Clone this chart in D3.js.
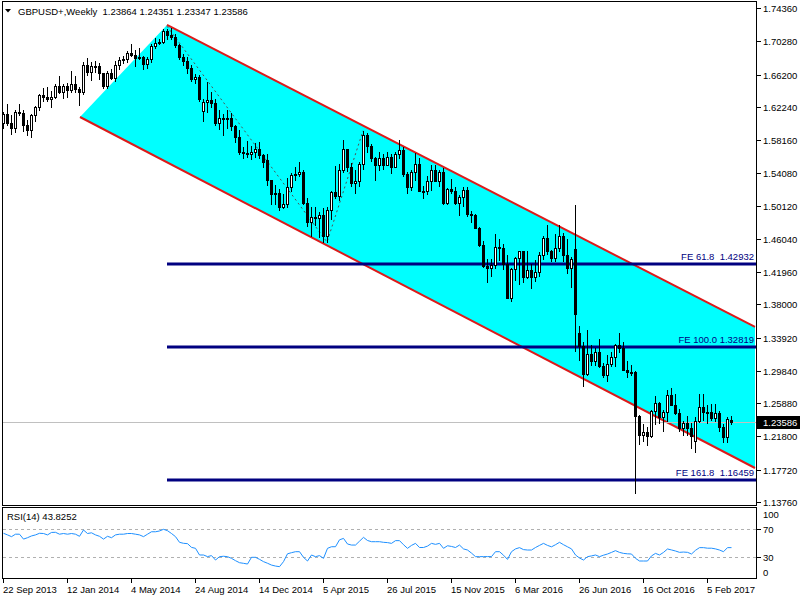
<!DOCTYPE html>
<html><head><meta charset="utf-8">
<script src="https://cdn.jsdelivr.net/npm/d3@7"></script>
<style>
body{margin:0;background:#fff}
svg{display:block}
text{font-family:"Liberation Sans",Arial,sans-serif;font-size:9.5px;white-space:pre}
</style>
</head><body>
<svg id="c" width="800" height="600"></svg>
<script>
const title = "GBPUSD+,Weekly  1.23864 1.24351 1.23347 1.23586";
const opens = [1.6020,1.6130,1.6030,1.5960,1.6165,1.6150,1.6005,1.5945,1.6120,1.6225,1.6370,1.6350,1.6320,1.6350,1.6480,1.6410,1.6475,1.6430,1.6500,1.6440,
1.6410,1.6740,1.6650,1.6720,1.6725,1.6635,1.6485,1.6640,1.6580,1.6740,1.6800,1.6810,1.6890,1.6865,1.6820,1.6830,1.6750,1.6805,1.6975,1.7010,
1.7020,1.7155,1.7110,1.7085,1.6980,1.6830,1.6790,1.6700,1.6560,1.6595,1.6172,1.6283,1.6305,1.6275,1.6030,1.6085,1.6080,1.6090,1.5990,1.5855,
1.5665,1.5655,1.5640,1.5665,1.5710,1.5630,1.5570,1.5325,1.5160,1.5165,1.4995,1.5030,1.5235,1.5390,1.5395,1.5430,1.5045,1.4810,1.4875,1.4860,
1.4900,1.4635,1.4960,1.5175,1.5125,1.5450,1.5705,1.5490,1.5285,1.5315,1.5520,1.5880,1.5740,1.5600,1.5510,1.5600,1.5510,1.5610,1.5490,1.5640,
1.5700,1.5405,1.5240,1.5425,1.5525,1.5195,1.5185,1.5315,1.5450,1.5315,1.5430,1.5045,1.5220,1.5190,1.5040,1.5120,1.5200,1.4910,1.4895,1.4740,
1.4530,1.4265,1.4245,1.4280,1.4500,1.4495,1.4300,1.3880,1.4230,1.4370,1.4460,1.4135,1.4220,1.4135,1.4200,1.4400,1.4620,1.4450,1.4370,1.4495,
1.4640,1.4400,1.4250,1.4480,1.3450,1.3290,1.2950,1.3195,1.3110,1.3220,1.3040,1.2930,1.3075,1.3160,1.3300,1.3270,1.3000,1.2965,1.2975,1.2433,
1.2195,1.2230,1.2190,1.2495,1.2595,1.2420,1.2475,1.2690,1.2570,1.2470,1.2280,1.2340,1.2280,1.2130,1.2370,1.2545,1.2480,1.2485,1.2410,1.2470,
1.2290,1.2170,1.23864];
const highs = [1.6165,1.6260,1.6120,1.6180,1.6260,1.6180,1.6060,1.6130,1.6230,1.6385,1.6460,1.6470,1.6420,1.6500,1.6600,1.6500,1.6510,1.6668,1.6600,1.6470,
1.6770,1.6822,1.6770,1.6790,1.6760,1.6640,1.6660,1.6690,1.6780,1.6840,1.6850,1.6905,1.6996,1.6925,1.6950,1.6850,1.6830,1.6990,1.7064,1.7060,
1.7180,1.7180,1.7192,1.7115,1.6990,1.6870,1.6830,1.6740,1.6630,1.6620,1.6320,1.6525,1.6400,1.6320,1.6185,1.6130,1.6180,1.6150,1.6000,1.5945,
1.5735,1.5810,1.5740,1.5785,1.5790,1.5650,1.5640,1.5330,1.5270,1.5215,1.5150,1.5350,1.5410,1.5490,1.5550,1.5450,1.5110,1.5000,1.5000,1.4930,
1.4980,1.4990,1.5185,1.5500,1.5525,1.5815,1.5710,1.5530,1.5450,1.5550,1.5930,1.5900,1.5770,1.5610,1.5675,1.5650,1.5670,1.5640,1.5670,1.5815,
1.5730,1.5430,1.5450,1.5660,1.5590,1.5250,1.5380,1.5510,1.5510,1.5450,1.5475,1.5230,1.5340,1.5240,1.5140,1.5240,1.5240,1.4950,1.4905,1.4750,
1.4580,1.4355,1.4360,1.4665,1.4600,1.4535,1.4410,1.4250,1.4380,1.4460,1.4460,1.4460,1.4300,1.4350,1.4440,1.4640,1.4770,1.4470,1.4660,1.4770,
1.4680,1.4600,1.4380,1.5018,1.3535,1.3340,1.3480,1.3305,1.3265,1.3370,1.3080,1.3180,1.3220,1.3310,1.3445,1.3335,1.3110,1.3060,1.2980,1.2440,
1.2330,1.2300,1.2500,1.2675,1.2600,1.2510,1.2745,1.2775,1.2705,1.2520,1.2370,1.2430,1.2350,1.2415,1.2700,1.2705,1.2570,1.2580,1.2580,1.2490,
1.2330,1.2420,1.24351];
const lows = [1.5970,1.6000,1.5895,1.5910,1.6120,1.5930,1.5880,1.5855,1.6050,1.6190,1.6300,1.6290,1.6225,1.6330,1.6390,1.6330,1.6345,1.6400,1.6410,1.6250,
1.6380,1.6620,1.6550,1.6650,1.6570,1.6460,1.6460,1.6560,1.6540,1.6690,1.6760,1.6770,1.6850,1.6730,1.6810,1.6692,1.6695,1.6770,1.6940,1.6990,
1.7010,1.7060,1.7050,1.6960,1.6810,1.6740,1.6640,1.6540,1.6520,1.6290,1.6052,1.6160,1.6225,1.6000,1.5950,1.5875,1.5970,1.5935,1.5790,1.5640,
1.5590,1.5610,1.5585,1.5610,1.5590,1.5485,1.5270,1.5035,1.5035,1.4952,1.4985,1.4990,1.5190,1.5330,1.5370,1.5030,1.4760,1.4635,1.4780,1.4630,
1.4570,1.4565,1.4850,1.5110,1.5080,1.5420,1.5440,1.5255,1.5170,1.5250,1.5460,1.5670,1.5560,1.5330,1.5450,1.5460,1.5505,1.5410,1.5480,1.5590,
1.5375,1.5165,1.5200,1.5330,1.5190,1.5110,1.5160,1.5200,1.5330,1.5250,1.5030,1.5030,1.5170,1.5030,1.4895,1.5010,1.4880,1.4805,1.4735,1.4515,
1.4260,1.4080,1.4150,1.4250,1.4350,1.4235,1.3880,1.3836,1.4100,1.4050,1.4080,1.4120,1.4005,1.4090,1.4150,1.4360,1.4420,1.4330,1.4330,1.4450,
1.4330,1.4190,1.4010,1.3229,1.3122,1.2798,1.2935,1.3060,1.3060,1.3030,1.2910,1.2865,1.3050,1.3050,1.3220,1.2990,1.2915,1.2930,1.1491,1.2085,
1.2130,1.2080,1.2170,1.2330,1.2340,1.2250,1.2375,1.2560,1.2460,1.2250,1.2200,1.2200,1.2040,1.1986,1.2360,1.2380,1.2345,1.2380,1.2370,1.2250,
1.2110,1.2110,1.23347];
const closes = [1.6130,1.6030,1.5960,1.6165,1.6150,1.6005,1.5945,1.6120,1.6225,1.6370,1.6350,1.6320,1.6350,1.6480,1.6410,1.6475,1.6430,1.6500,1.6440,1.6410,
1.6740,1.6650,1.6720,1.6725,1.6635,1.6485,1.6640,1.6580,1.6740,1.6800,1.6810,1.6890,1.6865,1.6820,1.6830,1.6750,1.6805,1.6975,1.7010,1.7020,
1.7155,1.7110,1.7085,1.6980,1.6830,1.6790,1.6700,1.6560,1.6595,1.6320,1.6283,1.6305,1.6275,1.6030,1.6085,1.6080,1.6090,1.5990,1.5855,1.5665,
1.5655,1.5640,1.5665,1.5710,1.5630,1.5545,1.5325,1.5160,1.5165,1.4995,1.5030,1.5235,1.5390,1.5395,1.5430,1.5045,1.4810,1.4875,1.4860,1.4900,
1.4635,1.4960,1.5175,1.5125,1.5450,1.5705,1.5490,1.5285,1.5315,1.5520,1.5880,1.5740,1.5600,1.5510,1.5600,1.5510,1.5610,1.5490,1.5640,1.5700,
1.5405,1.5240,1.5425,1.5525,1.5195,1.5185,1.5315,1.5450,1.5315,1.5430,1.5045,1.5220,1.5190,1.5040,1.5120,1.5200,1.4910,1.4895,1.4740,1.4530,
1.4265,1.4245,1.4280,1.4500,1.4495,1.4300,1.3880,1.4230,1.4370,1.4460,1.4135,1.4220,1.4135,1.4200,1.4400,1.4620,1.4450,1.4370,1.4495,1.4640,
1.4400,1.4250,1.4360,1.3679,1.3290,1.2950,1.3195,1.3110,1.3220,1.3040,1.2930,1.3075,1.3160,1.3300,1.3270,1.3000,1.2965,1.2975,1.2433,1.2195,
1.2230,1.2190,1.2495,1.2595,1.2420,1.2475,1.2690,1.2570,1.2470,1.2280,1.2340,1.2280,1.2180,1.2370,1.2545,1.2480,1.2485,1.2410,1.2470,1.2290,
1.2170,1.2400,1.23586];
const rsiValues = [64.3,62,59.5,63,63,56,58,60.5,62,64.3,64,62,65.5,65.7,63,64,63,64,63,60,
69,64,65,62,60,56,60,58,62,63,63,64,64,63,62,59.5,63,66.5,66.5,67.6,
70,68,64,59.5,51.4,50,49.5,44.2,42.8,33.3,33.3,31,32.4,26.1,30.9,31.5,30.9,28.5,25.2,22.3,
21.4,20.4,30,30,27.1,23.8,21.5,18.9,17.5,16.6,23.8,35,36.6,38,38,30,24.7,33.3,30.9,32.4,
28.5,42.8,45.1,45.1,55,57,49,47.5,47.5,53,58.5,54,52.3,52.3,52.3,51.4,51,49.9,53.8,53.8,
48,42.8,47,49.9,44,44,46,49.9,48.5,49.9,42.8,46.5,45.5,44,47.5,42,40.4,36,30.9,30.9,
31,31,31,38,38,33,27,38,42,43.8,41,40.4,40.4,44,47,49.9,47,45,48,51.4,
48,45,42,33.3,29,26.1,30.9,32,33.3,30.9,33,34.7,37,39.5,37,35.6,35,34.7,28.5,24.7,
24.7,24.7,32,35.6,33.3,37,41.9,40.5,39,37.1,37.5,37.1,34.7,40,43.8,43.8,43,43,42,40.4,
38,43.8,43.8252];
const rsiLabel = "RSI(14) 43.8252";
const dateLabels = ["22 Sep 2013","12 Jan 2014","4 May 2014","24 Aug 2014","14 Dec 2014","5 Apr 2015","26 Jul 2015","15 Nov 2015","6 Mar 2016","26 Jun 2016","16 Oct 2016","5 Feb 2017"];
const dateLabelIndex = [0,16,32,48,64,80,96,112,128,144,160,176];
const priceTicks = [1.74360,1.70280,1.66200,1.62240,1.58160,1.54080,1.50120,1.46040,1.41960,1.38000,1.33920,1.29840,1.25880,1.21800,1.17720,1.13760];
const rsiTicks = [100,70,30,0];
const rsiLevels = [70,30];
const channelUpper = [[41,1.7228],[188,1.3523]];
const channelLower = [[19.25,1.6099],[188,1.1793]];
const fePoints = [[41,1.72124],[81,1.45650],[90,1.59293]];
const feLevels = [1.42932,1.32819,1.16459];
const feTexts = ["FE 61.8  1.42932","FE 100.0 1.32819","FE 161.8  1.16459"];
const feStartIndex = 41;
const currentPrice = 1.23586;
const currentText = "1.23586";

const svg = d3.select("#c");
const L = 3, R = 756, T = 2, B = 505;
const x = d3.scaleLinear().domain([0,188]).range([3,755]);
const y = d3.scaleLinear().domain([1.13760,1.74360]).range([502,8]);
const yr = d3.scaleLinear().domain([0,100]).range([578.3,508.3]);

svg.append("defs").append("clipPath").attr("id","mc").append("rect")
  .attr("x",L).attr("y",T).attr("width",R-L).attr("height",B-T);
const g = svg.append("g").attr("clip-path","url(#mc)");

// channel fill
const poly = [channelLower[0], channelLower[1], channelUpper[1], channelUpper[0]];
g.append("polygon").attr("points", poly.map(p=>[x(p[0]),y(p[1])].join(",")).join(" "))
  .attr("fill","#00ffff");
[channelUpper, channelLower].forEach(c=>{
  g.append("line").attr("x1",x(c[0][0])).attr("y1",y(c[0][1])).attr("x2",x(c[1][0])).attr("y2",y(c[1][1]))
   .attr("stroke","#dd1a1a").attr("stroke-width",2);
});

// current price line
g.append("line").attr("x1",L).attr("x2",R).attr("y1",Math.round(y(currentPrice))+0.5).attr("y2",Math.round(y(currentPrice))+0.5)
  .attr("stroke","#c0c0c0").attr("stroke-width",1);

// FE lines
feLevels.forEach((v,k)=>{
  const yy = Math.round(y(v));
  g.append("line").attr("x1",x(feStartIndex)).attr("x2",R).attr("y1",yy).attr("y2",yy)
    .attr("stroke","#000080").attr("stroke-width",3);
  svg.append("text").attr("x",754).attr("y",yy-4).attr("text-anchor","end").attr("fill","#000080").text(feTexts[k]);
});

// zigzag dotted
g.append("path").attr("d", d3.line().x(d=>x(d[0])).y(d=>y(d[1]))(fePoints))
  .attr("fill","none").attr("stroke","#505050").attr("stroke-width",1).attr("stroke-dasharray","2,3");

// candles
const idx = d3.range(opens.length);
const cg = g.append("g");
idx.forEach(i=>{
  const cx = Math.round(x(i));
  cg.append("line").attr("x1",cx+0.5).attr("x2",cx+0.5).attr("y1",Math.round(y(highs[i]))).attr("y2",Math.round(y(lows[i]))+1)
    .attr("stroke","#000").attr("stroke-width",1);
  const top = Math.round(y(Math.max(opens[i],closes[i])));
  const bot = Math.round(y(Math.min(opens[i],closes[i])));
  const h = Math.max(1, bot-top);
  if (closes[i] >= opens[i]) {
    cg.append("rect").attr("x",cx-0.5).attr("y",top+0.5).attr("width",2).attr("height",Math.max(0,h))
      .attr("fill","#fff").attr("stroke","#000").attr("stroke-width",1);
  } else {
    cg.append("rect").attr("x",cx-1).attr("y",top).attr("width",3).attr("height",h+1).attr("fill","#000");
  }
});

// frames
svg.append("rect").attr("x",2.5).attr("y",1.5).attr("width",754).attr("height",504).attr("fill","none").attr("stroke","#000");
svg.append("rect").attr("x",2.5).attr("y",507.5).attr("width",754).attr("height",71).attr("fill","none").attr("stroke","#000");

// price axis
priceTicks.forEach(v=>{
  const yy = Math.round(y(v))+0.5;
  svg.append("line").attr("x1",757).attr("x2",761).attr("y1",yy).attr("y2",yy).attr("stroke","#000");
  svg.append("text").attr("x",763).attr("y",yy+3.5).attr("fill","#000").text(v.toFixed(5));
});
// current price label
const cy = Math.round(y(currentPrice));
svg.append("rect").attr("x",757).attr("y",cy-6).attr("width",43).attr("height",13).attr("fill","#000");
svg.append("text").attr("x",763).attr("y",cy+4).attr("fill","#fff").text(currentText);

// title
svg.append("polygon").attr("points","5,9 11,9 8,12.5").attr("fill","#000");
svg.append("text").attr("x",18).attr("y",15).attr("fill","#000").text(title);

// RSI
rsiLevels.forEach(v=>{
  svg.append("line").attr("x1",L).attr("x2",R).attr("y1",Math.round(yr(v))+0.5).attr("y2",Math.round(yr(v))+0.5)
    .attr("stroke","#b0b0b0").attr("stroke-dasharray","3,3");
});
svg.append("path").attr("d", d3.line().x((d,i)=>x(i)+0.5).y(d=>yr(d))(rsiValues))
  .attr("fill","none").attr("stroke","#1e90ff").attr("stroke-width",1);
svg.append("text").attr("x",7).attr("y",520).attr("fill","#000").text(rsiLabel);
rsiTicks.forEach(v=>{
  let yy = yr(v);
  if (v===100) yy += 6; else if (v===0) yy -= 6;
  if (v===70 || v===30) svg.append("line").attr("x1",757).attr("x2",761).attr("y1",Math.round(yy)+0.5).attr("y2",Math.round(yy)+0.5).attr("stroke","#000");
  svg.append("text").attr("x",763).attr("y",yy+3.5).attr("fill","#000").text(v);
});

// date axis
dateLabelIndex.forEach((ix,k)=>{
  const xx = Math.round(x(ix))+0.5;
  svg.append("line").attr("x1",xx).attr("x2",xx).attr("y1",579).attr("y2",583).attr("stroke","#000");
  svg.append("text").attr("x",xx-0.5).attr("y",593).attr("fill","#000").text(dateLabels[k]);
});
</script>
</body></html>
